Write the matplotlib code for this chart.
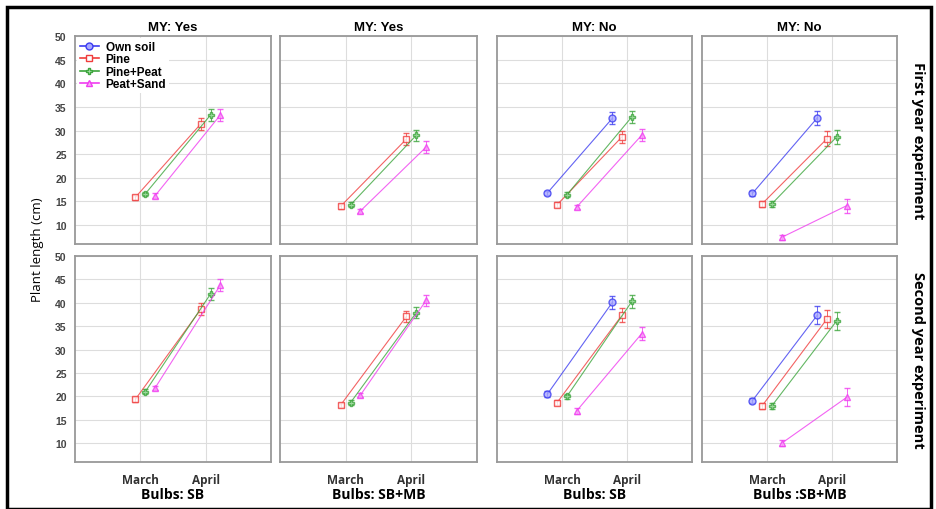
import numpy as np
import matplotlib.pyplot as plt
from matplotlib.lines import Line2D

# Data (panels in row order: first year SB, SB+MB, SB, SB+MB, then second year)
months = ["March", "April"]
col_titles = ["MY: Yes", "MY: Yes", "MY: No", "MY: No"]
bulb_labels = ["Bulbs: SB", "Bulbs: SB+MB", "Bulbs: SB", "Bulbs :SB+MB"]
row_labels = ["First year experiment", "Second year experiment"]
series = ["Own soil", "Pine", "Pine+Peat", "Peat+Sand"]

nan = np.nan
own_march = [nan, nan, 16.8, 16.7, nan, nan, 20.5, 19.1]
own_april = [nan, nan, 32.6, 32.7, nan, nan, 40.1, 37.4]
pine_march = [15.9, 14.0, 14.3, 14.5, 19.4, 18.2, 18.7, 18.0]
pine_april = [31.4, 28.2, 28.7, 28.3, 38.6, 37.1, 37.4, 36.6]
pp_march = [16.6, 14.3, 16.4, 14.5, 21.0, 18.7, 20.0, 18.0]
pp_april = [33.3, 29.0, 32.9, 28.7, 41.9, 37.9, 40.3, 36.2]
ps_march = [16.2, 13.0, 13.8, 7.4, 21.8, 20.3, 16.9, 10.0]
ps_april = [33.3, 26.5, 29.0, 14.1, 43.8, 40.5, 33.4, 19.8]

err_march = [0.5, 0.5, 0.5, 0.6, 0.5, 0.5, 0.6, 0.6]
err_april = [1.2, 1.2, 1.3, 1.5, 1.3, 1.2, 1.4, 1.9]

march_vals = [own_march, pine_march, pp_march, ps_march]
april_vals = [own_april, pine_april, pp_april, ps_april]

colors = ["#3c3cf0", "#f03c3c", "#3ca53c", "#f03cf0"]
faces = ["#a8a8ff", "#ffffff", "#a8e0a8", "#f8a8f8"]
markers = ["o", "s", "P", "^"]
offsets = [-0.225, -0.075, 0.075, 0.225]

fig = plt.figure(figsize=(9.36, 5.1), dpi=100)

lefts = [75, 280, 497, 702]
rights = [271, 477, 692, 897]
tops = [37, 257]
bottoms = [245, 463]
W, H = 936.0, 510.0

bold_font = ["Liberation Sans", "DejaVu Sans"]
label_font = ["Open Sans", "DejaVu Sans"]

axes = []
for r in range(2):
    for c in range(4):
        ax = fig.add_axes([lefts[c] / W, 1 - bottoms[r] / H,
                           (rights[c] - lefts[c]) / W, (bottoms[r] - tops[r]) / H])
        k = r * 4 + c
        for s in range(4):
            xs = np.array([0, 1]) + offsets[s]
            ys = [march_vals[s][k], april_vals[s][k]]
            if np.isnan(ys[0]):
                continue
            ax.errorbar(xs, ys, yerr=[err_march[k], err_april[k]], color=colors[s],
                        marker=markers[s], markersize=5, mfc=faces[s], mec=colors[s],
                        mew=1.0, lw=0.8, elinewidth=0.7, capsize=2, alpha=0.8, zorder=3)
        ax.set_xlim(-1, 2)
        ax.set_ylim(6, 50)
        ax.set_xticks([0, 1])
        ax.set_yticks(np.arange(10, 51, 5))
        ax.grid(True, color="#dddddd", lw=0.8)
        ax.tick_params(length=0)
        for sp in ax.spines.values():
            sp.set_color("#999999")
            sp.set_linewidth(1.3)
        if c == 0:
            for t in ax.set_yticklabels([str(v) for v in range(10, 51, 5)]):
                t.set_fontsize(7.5)
                t.set_fontweight("bold")
                t.set_color("#444444")
                t.set_family(bold_font)
            ax.tick_params(axis="y", pad=6)
        else:
            ax.set_yticklabels([])
        if r == 1:
            ax.set_xticklabels(months, fontsize=8.5, fontweight="bold",
                               color="#333333", family=label_font)
            ax.tick_params(axis="x", pad=8)
            ax.set_xlabel(bulb_labels[c], fontsize=10, fontweight="bold",
                          family=label_font, labelpad=1)
        else:
            ax.set_xticklabels([])
            ax.set_title(col_titles[c], fontsize=9.5, fontweight="bold",
                         family=bold_font, pad=4)
        axes.append(ax)

# legend in first panel
handles = [Line2D([0], [0], color=colors[s], marker=markers[s], mfc=faces[s],
                  mec=colors[s], markersize=5, lw=1.2) for s in range(4)]
leg = axes[0].legend(handles, series, loc="upper left",
                     prop={"weight": "bold", "size": 8.5, "family": bold_font},
                     frameon=True, edgecolor="none", framealpha=1,
                     handlelength=1.6, handletextpad=0.6, labelspacing=0.05,
                     borderpad=0.2, borderaxespad=0.2)

fig.text(38 / W, 1 - 250 / H, "Plant length (cm)", rotation=90, ha="center",
         va="center", fontsize=9.5, family=label_font)
for r in range(2):
    fig.text(918 / W, 1 - (tops[r] + bottoms[r]) / 2 / H, row_labels[r],
             rotation=270, ha="center", va="center", fontsize=10.5,
             fontweight="bold", family=label_font)

# outer frame
fig.add_artist(plt.Rectangle((7 / W, 0.0), 924 / W, 1 - 8 / H, transform=fig.transFigure,
                             fill=False, edgecolor="black", lw=2.5))

fig.savefig("out.png", dpi=100)
